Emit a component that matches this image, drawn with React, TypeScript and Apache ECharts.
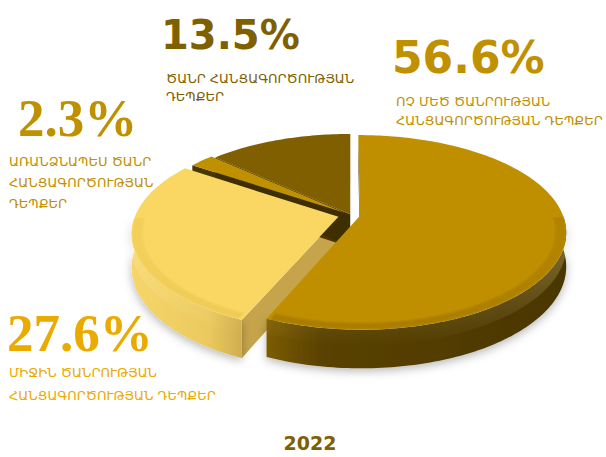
import React, { useEffect, useRef } from 'react';
import * as echarts from 'echarts';

// ---- data ----
const categories = [
  'ՈՉ ՄԵԾ ԾԱՆՐՈՒԹՅԱՆ ՀԱՆՑԱԳՈՐԾՈՒԹՅԱՆ ԴԵՊՔԵՐ',
  'ՄԻՋԻՆ ԾԱՆՐՈՒԹՅԱՆ ՀԱՆՑԱԳՈՐԾՈՒԹՅԱՆ ԴԵՊՔԵՐ',
  'ԱՌԱՆՁՆԱՊԵՍ ԾԱՆՐ ՀԱՆՑԱԳՈՐԾՈՒԹՅԱՆ ԴԵՊՔԵՐ',
  'ԾԱՆՐ ՀԱՆՑԱԳՈՐԾՈՒԹՅԱՆ ԴԵՊՔԵՐ',
];
const labelLines = [
  ['ՈՉ ՄԵԾ ԾԱՆՐՈՒԹՅԱՆ', 'ՀԱՆՑԱԳՈՐԾՈՒԹՅԱՆ ԴԵՊՔԵՐ'],
  ['ՄԻՋԻՆ ԾԱՆՐՈՒԹՅԱՆ', 'ՀԱՆՑԱԳՈՐԾՈՒԹՅԱՆ ԴԵՊՔԵՐ'],
  ['ԱՌԱՆՁՆԱՊԵՍ ԾԱՆՐ', 'ՀԱՆՑԱԳՈՐԾՈՒԹՅԱՆ', 'ԴԵՊՔԵՐ'],
  ['ԾԱՆՐ ՀԱՆՑԱԳՈՐԾՈՒԹՅԱՆ', 'ԴԵՊՔԵՐ'],
];
const values = [56.6, 27.6, 2.3, 13.5];
const yearLabel = '2022';

// ---- styles / layout ----
const CX = 351;
const CY = 215;
const RX = 203;
const RY = 97;
const K = RY / RX;
const P = 0.17; // perspective strength
const H = 33;
const explode = [9, 13, 7, 2];
const topFill = ['#BF8F00', '#F9D762', '#BF9000', '#7F5F00'];
const faceFill = ['#5A4200', '#C6A44B', '#4A3700', '#3E2E00'];
const rimShade = ['rgba(70,45,0,0.045)', 'rgba(160,120,0,0.03)', 'rgba(70,45,0,0.045)', 'rgba(40,25,0,0.045)'];
const wallStops = [
  [[0, '#7C5C00'], [0.18, '#5A4200'], [1, '#4A3600']],
  [[0, '#F6D66A'], [0.7, '#EBC95E'], [1, '#CFAE50']],
  [[0, '#8C6A00'], [1, '#5A4200']],
  [[0, '#5A4300'], [1, '#3E2E00']],
];
const numColor = ['#BF9000', '#EAAA00', '#BF9000', '#7F6000'];
const numFont = [
  'bold 44px "DejaVu Sans"',
  'bold 53px "Liberation Serif"',
  'bold 53px "Liberation Serif"',
  'bold 40px "DejaVu Sans"',
];
const numPos = [[392, 57], [7, 333], [18, 118], [161, 35]];
const subPos = [[396, 101], [9, 372], [9, 161], [166, 78]];
const subLineGap = [19, 23, 21, 18];

const total = values.reduce((a, b) => a + b, 0);
const cum: number[] = [];
{
  let acc = 0;
  values.forEach((v) => {
    cum.push(acc);
    acc += v;
  });
}

function geom(i: number) {
  const a0 = 90 - (360 * cum[i]) / total;
  const a1 = 90 - (360 * (cum[i] + values[i])) / total;
  const m = (((a0 + a1) / 2) * Math.PI) / 180;
  const d = explode[i];
  return { a0, a1, ox: d * Math.cos(m), ov: d * Math.sin(m) };
}
// project a world point (horizontal wx, depth wv, drop z) to the screen
function proj(wx: number, wv: number, z: number) {
  const p = 1 - (P * wv) / RX;
  return [CX + wx * p, CY - K * wv * p + z * p];
}
function pt(g: any, deg: number, z: number, f = 1) {
  const r = (deg * Math.PI) / 180;
  return proj(g.ox + RX * f * Math.cos(r), g.ov + RX * f * Math.sin(r), z);
}
function ctr(g: any, z: number) {
  return proj(g.ox, g.ov, z);
}
function arc(g: any, from: number, to: number, z: number, f = 1) {
  const n = Math.max(2, Math.ceil(Math.abs(to - from) / 1.2));
  const pts: number[][] = [];
  for (let j = 0; j <= n; j++) pts.push(pt(g, from + ((to - from) * j) / n, z, f));
  return pts;
}
function area(pts: number[][]) {
  let s = 0;
  for (let j = 0; j < pts.length; j++) {
    const a = pts[j];
    const b = pts[(j + 1) % pts.length];
    s += a[0] * b[1] - b[0] * a[1];
  }
  return s;
}
function grad(stops: any[], vertical = false) {
  return new echarts.graphic.LinearGradient(0, 0, vertical ? 0 : 1, vertical ? 1 : 0,
    stops.map((s) => ({ offset: s[0], color: s[1] })));
}

export default function App() {
  const ref = useRef<HTMLDivElement>(null);
  useEffect(() => {
    document.body.style.margin = '0';
    if (!ref.current) return;
    const chart = echarts.init(ref.current, null, { renderer: 'svg' });

    const data = values.map((v, i) => ({ value: v, name: categories[i] }));

    const graphics: any[] = [];
    values.forEach((v, i) => {
      graphics.push({
        type: 'text',
        x: numPos[i][0],
        y: numPos[i][1],
        style: {
          text: `${v}%`,
          font: numFont[i],
          fill: numColor[i],
          textAlign: 'left',
          textVerticalAlign: 'middle',
        },
      });
      labelLines[i].forEach((line, j) => {
        graphics.push({
          type: 'text',
          x: subPos[i][0],
          y: subPos[i][1] + j * subLineGap[i],
          style: {
            text: line,
            font: '13px "DejaVu Sans"',
            fill: numColor[i],
            textAlign: 'left',
            textVerticalAlign: 'middle',
          },
        });
      });
    });
    graphics.push({
      type: 'text',
      x: 310,
      y: 443,
      style: {
        text: yearLabel,
        font: 'bold 19px "DejaVu Sans"',
        fill: '#7F6000',
        textAlign: 'center',
        textVerticalAlign: 'middle',
      },
    });

    const sides = (params: any) => {
      const i = params.dataIndex;
      const g = geom(i);
      const children: any[] = [];
      const face = (a: number, sign: number) => {
        const quad = [ctr(g, 0), pt(g, a, 0), pt(g, a, H), ctr(g, H)];
        if (area(quad) * sign <= 0) return;
        children.push({
          type: 'polygon',
          shape: { points: quad },
          style: { fill: faceFill[i] },
        });
      };
      face(g.a0, -1);
      face(g.a1, 1);
      return { type: 'group', children };
    };
    const walls = (params: any) => {
      const i = params.dataIndex;
      const g = geom(i);
      const lo = Math.max(g.a1, -180);
      const hi = Math.min(g.a0, 0);
      if (hi <= lo) return { type: 'group', children: [] };
      const top = arc(g, lo, hi, 0);
      const bot = arc(g, hi, lo, H);
      return {
        type: 'group',
        children: [
          {
            type: 'polygon',
            shape: { points: [...top, ...bot] },
            style: {
              fill: grad(wallStops[i]),
              shadowBlur: 10,
              shadowOffsetY: 3,
              shadowColor: 'rgba(0,0,0,0.28)',
            },
          },
          {
            type: 'polygon',
            shape: { points: [...top, ...arc(g, hi, lo, H * 0.4)] },
            style: {
              fill: grad([[0, 'rgba(255,240,180,0.35)'], [1, 'rgba(255,240,180,0)']], true),
            },
          },
        ],
      };
    };
    const tops = (params: any) => {
      const i = params.dataIndex;
      const g = geom(i);
      const children: any[] = [
        {
          type: 'polygon',
          shape: { points: [ctr(g, 0), ...arc(g, g.a0, g.a1, 0)] },
          style: { fill: topFill[i] },
        },
      ];
      const lo = Math.max(g.a1, -180);
      const hi = Math.min(g.a0, 0);
      if (hi > lo) {
        for (let k = 0; k < 8; k++) {
          children.push({
            type: 'polyline',
            shape: { points: arc(g, lo + 1, hi - 1, 0, 1 - 0.006 - k * 0.006) },
            style: { stroke: rimShade[i], lineWidth: 3, fill: null },
          });
        }
      }
      return { type: 'group', children };
    };

    chart.setOption({
      animation: false,
      backgroundColor: '#FFFFFF',
      graphic: graphics,
      series: [
        { type: 'custom', name: 'sides', coordinateSystem: 'none', silent: true, z: 1, data, renderItem: sides },
        { type: 'custom', name: 'walls', coordinateSystem: 'none', silent: true, z: 2, data, renderItem: walls },
        { type: 'custom', name: 'tops', coordinateSystem: 'none', silent: true, z: 3, data, renderItem: tops },
      ],
    });
    return () => chart.dispose();
  }, []);
  return <div ref={ref} style={{ width: 606, height: 457 }} />;
}
